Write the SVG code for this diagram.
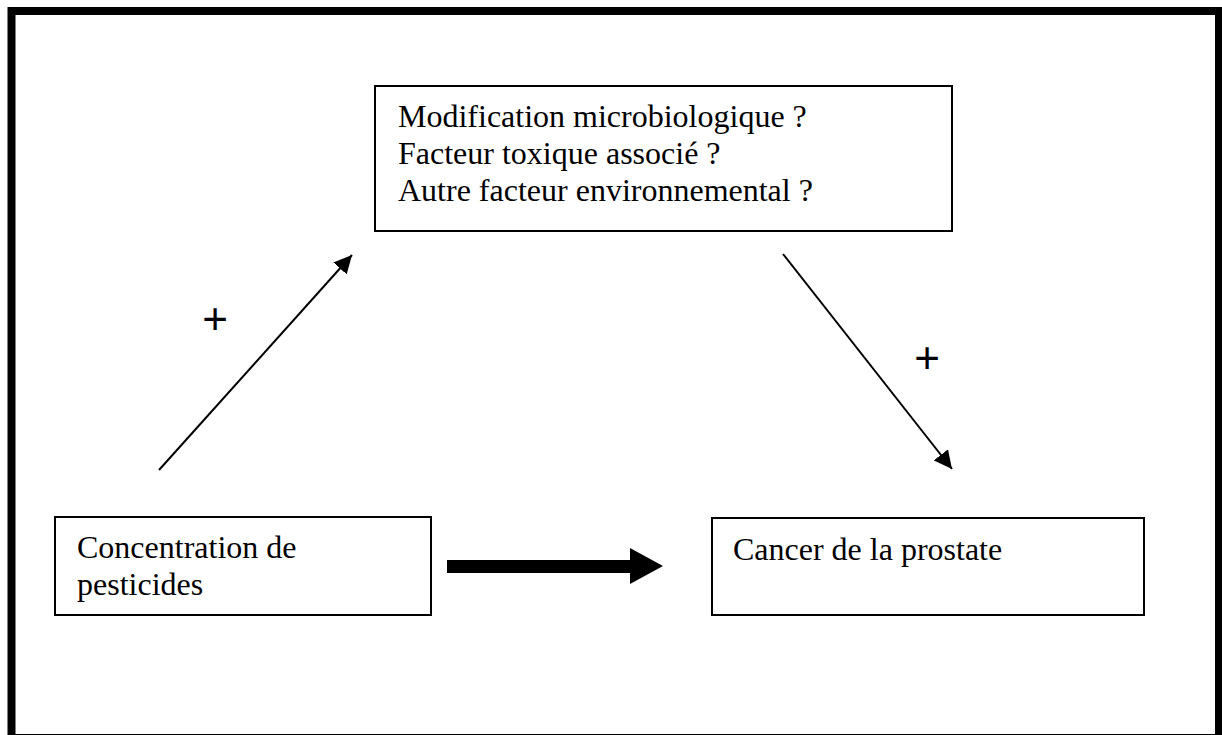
<svg xmlns="http://www.w3.org/2000/svg" width="1222" height="735" viewBox="0 0 1222 735">
<style>
.box{fill:#fff;stroke:#000;stroke-width:2}
.t{font-family:"Liberation Serif","Times New Roman",serif;font-size:32px;fill:#000}
.p{font-family:"Liberation Sans",Arial,sans-serif;font-size:44px;fill:#000}
.ln{stroke:#000;stroke-width:2;fill:none}
</style>
<defs>
<marker id="ah2" viewBox="0 0 10 10" refX="10" refY="5" markerWidth="9" markerHeight="9" orient="auto">
<path d="M0,0 L10,5 L0,10 z" fill="#000"/>
</marker>
</defs>
<rect x="0" y="0" width="1222" height="735" fill="#fff"/>
<rect x="11.5" y="11" width="1207.5" height="727" fill="none" stroke="#000" stroke-width="8"/>
<g id="node-top">
<rect class="box" x="375" y="86" width="577" height="145"/>
<text class="t" x="398" y="127">Modification microbiologique ?</text>
<text class="t" x="398" y="164">Facteur toxique associé ?</text>
<text class="t" x="398" y="201">Autre facteur environnemental ?</text>
</g>
<g id="node-pesticides">
<rect class="box" x="55" y="517" width="376" height="98"/>
<text class="t" x="77" y="558">Concentration de</text>
<text class="t" x="77" y="595">pesticides</text>
</g>
<g id="node-cancer">
<rect class="box" x="712" y="518" width="432" height="97"/>
<text class="t" x="733" y="560">Cancer de la prostate</text>
</g>
<g id="connectors">
<line class="ln" x1="159" y1="470" x2="352" y2="255" marker-end="url(#ah2)"/>
<line class="ln" x1="783" y1="254" x2="952" y2="469" marker-end="url(#ah2)"/>
<polygon points="447,560 630,560 630,548 663,566 630,584 630,573 447,573" fill="#000"/>
<text class="p" x="215" y="334" text-anchor="middle">+</text>
<text class="p" x="927" y="373" text-anchor="middle">+</text>
</g>
</svg>
